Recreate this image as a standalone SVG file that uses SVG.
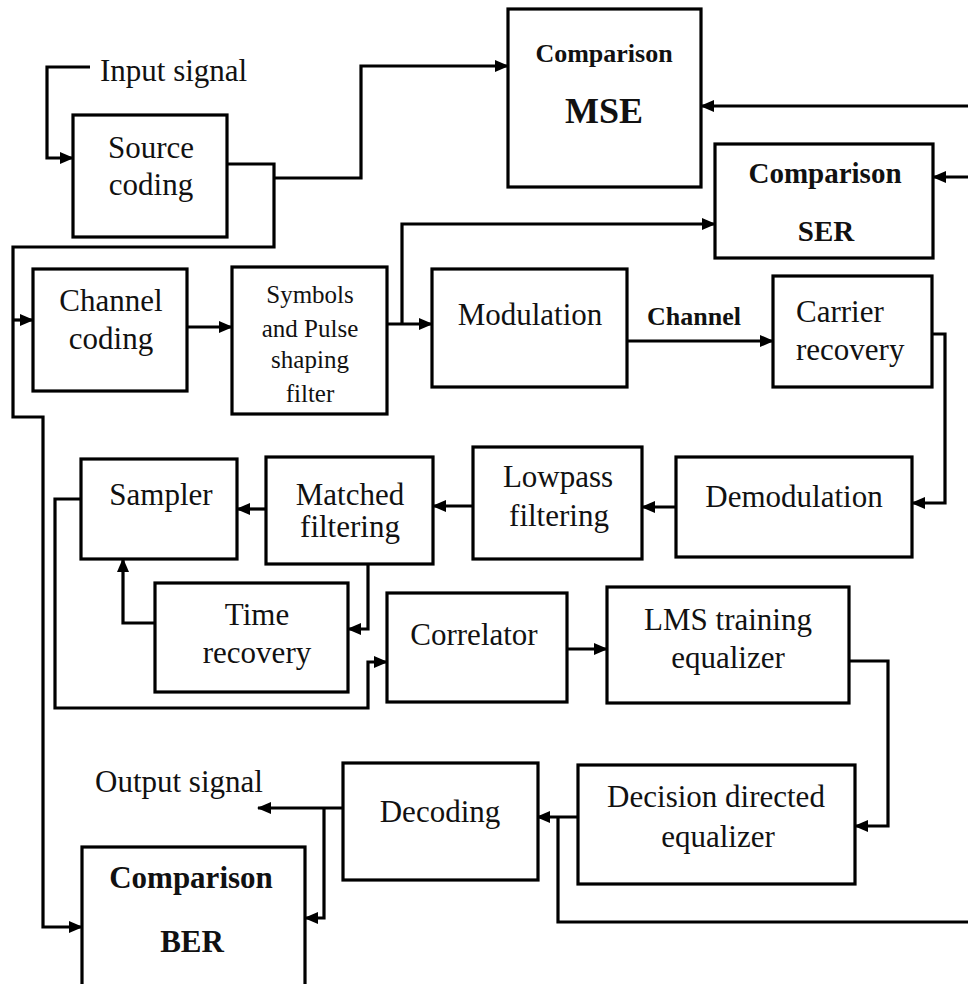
<svg xmlns="http://www.w3.org/2000/svg" width="968" height="984" viewBox="0 0 968 984">
  <style>
    .box { fill: #ffffff; stroke: #000000; stroke-width: 3.2; }
    .wire { fill: none; stroke: #000000; stroke-width: 3.2; stroke-linejoin: miter; }
    .lbl { font-family: "Liberation Serif", "Times New Roman", serif; font-size: 31px; fill: #111111; text-anchor: middle; }
    .sm { font-size: 25px; }
    .bold { font-weight: bold; }
  </style>
  <defs>
    <marker id="arrow" markerUnits="userSpaceOnUse" markerWidth="14" markerHeight="12" refX="13" refY="6" orient="auto">
      <path d="M0,0 L14,6 L0,12 z" fill="#000000"/>
    </marker>
  </defs>

  <rect width="968" height="984" fill="#ffffff"/>

  <!-- connectors -->
  <g id="connectors">
    <path class="wire" d="M90,67 H47 V158 H73" marker-end="url(#arrow)"/>
    <path class="wire" d="M227,164 H274 V247 H13 V417 H43 V927 H82" marker-end="url(#arrow)"/>
    <path class="wire" d="M274,178 H361 V66 H508" marker-end="url(#arrow)"/>
    <path class="wire" d="M13,320 H33" marker-end="url(#arrow)"/>
    <path class="wire" d="M187,327 H232" marker-end="url(#arrow)"/>
    <path class="wire" d="M387,324 H432" marker-end="url(#arrow)"/>
    <path class="wire" d="M402,324 V224 H715" marker-end="url(#arrow)"/>
    <path class="wire" d="M627,341 H773" marker-end="url(#arrow)"/>
    <path class="wire" d="M932,334 H945 V503 H912" marker-end="url(#arrow)"/>
    <path class="wire" d="M676,507 H642" marker-end="url(#arrow)"/>
    <path class="wire" d="M473,506 H433" marker-end="url(#arrow)"/>
    <path class="wire" d="M266,509 H237" marker-end="url(#arrow)"/>
    <path class="wire" d="M368,564 V629 H348" marker-end="url(#arrow)"/>
    <path class="wire" d="M155,623 H123 V559" marker-end="url(#arrow)"/>
    <path class="wire" d="M81,499 H55 V708 H368 V662 H387" marker-end="url(#arrow)"/>
    <path class="wire" d="M567,649 H607" marker-end="url(#arrow)"/>
    <path class="wire" d="M849,661 H888 V826 H855" marker-end="url(#arrow)"/>
    <path class="wire" d="M578,817 H537" marker-end="url(#arrow)"/>
    <path class="wire" d="M558,817 V922 H968"/>
    <path class="wire" d="M343,808 H258" marker-end="url(#arrow)"/>
    <path class="wire" d="M324,808 V918 H305" marker-end="url(#arrow)"/>
    <path class="wire" d="M968,106 H701" marker-end="url(#arrow)"/>
    <path class="wire" d="M968,177 H933" marker-end="url(#arrow)"/>
  </g>

  <text class="lbl" x="100" y="81" style="text-anchor:start">Input signal</text>
  <text class="lbl" x="95" y="792" style="text-anchor:start">Output signal</text>
  <text class="lbl bold" x="694" y="325" style="font-size:26px">Channel</text>

  <g id="source-coding">
    <rect class="box" x="73" y="115" width="154" height="122"/>
    <text class="lbl" x="151" y="158">Source</text>
    <text class="lbl" x="151" y="195">coding</text>
  </g>

  <g id="mse">
    <rect class="box" x="508" y="9" width="193" height="178"/>
    <text class="lbl bold" x="604" y="62" style="font-size:26px">Comparison</text>
    <text class="lbl bold" x="604" y="123" style="font-size:36px">MSE</text>
  </g>

  <g id="ser">
    <rect class="box" x="715" y="144" width="218" height="114"/>
    <text class="lbl bold" x="825" y="183" style="font-size:29px">Comparison</text>
    <text class="lbl bold" x="826" y="241" style="font-size:29px">SER</text>
  </g>

  <g id="channel-coding">
    <rect class="box" x="33" y="269" width="154" height="122"/>
    <text class="lbl" x="111" y="311">Channel</text>
    <text class="lbl" x="111" y="349">coding</text>
  </g>

  <g id="pulse-shaping">
    <rect class="box" x="232" y="267" width="155" height="147"/>
    <text class="lbl sm" x="310" y="303">Symbols</text>
    <text class="lbl sm" x="310" y="337">and Pulse</text>
    <text class="lbl sm" x="310" y="368">shaping</text>
    <text class="lbl sm" x="310" y="402">filter</text>
  </g>

  <g id="modulation">
    <rect class="box" x="432" y="269" width="195" height="118"/>
    <text class="lbl" x="530" y="325">Modulation</text>
  </g>

  <g id="carrier-recovery">
    <rect class="box" x="773" y="276" width="159" height="111"/>
    <text class="lbl" x="796" y="322" style="text-anchor:start">Carrier</text>
    <text class="lbl" x="796" y="360" style="text-anchor:start">recovery</text>
  </g>

  <g id="demodulation">
    <rect class="box" x="676" y="457" width="236" height="100"/>
    <text class="lbl" x="794" y="507">Demodulation</text>
  </g>

  <g id="lowpass">
    <rect class="box" x="473" y="447" width="169" height="112"/>
    <text class="lbl" x="558" y="487">Lowpass</text>
    <text class="lbl" x="559" y="526">filtering</text>
  </g>

  <g id="matched-filter">
    <rect class="box" x="266" y="457" width="167" height="107"/>
    <text class="lbl" x="350" y="505">Matched</text>
    <text class="lbl" x="350" y="537">filtering</text>
  </g>

  <g id="sampler">
    <rect class="box" x="81" y="459" width="156" height="100"/>
    <text class="lbl" x="161" y="505">Sampler</text>
  </g>

  <g id="time-recovery">
    <rect class="box" x="155" y="583" width="193" height="109"/>
    <text class="lbl" x="257" y="625">Time</text>
    <text class="lbl" x="257" y="663">recovery</text>
  </g>

  <g id="correlator">
    <rect class="box" x="387" y="593" width="180" height="109"/>
    <text class="lbl" x="474" y="645">Correlator</text>
  </g>

  <g id="lms-equalizer">
    <rect class="box" x="607" y="587" width="242" height="116"/>
    <text class="lbl" x="728" y="630">LMS training</text>
    <text class="lbl" x="728" y="668">equalizer</text>
  </g>

  <g id="dd-equalizer">
    <rect class="box" x="578" y="765" width="277" height="119"/>
    <text class="lbl" x="716" y="807">Decision directed</text>
    <text class="lbl" x="718" y="847">equalizer</text>
  </g>

  <g id="decoding">
    <rect class="box" x="343" y="763" width="195" height="117"/>
    <text class="lbl" x="440" y="822">Decoding</text>
  </g>

  <g id="ber">
    <rect class="box" x="82" y="847" width="223" height="150"/>
    <text class="lbl bold" x="191" y="888">Comparison</text>
    <text class="lbl bold" x="192" y="952">BER</text>
  </g>
</svg>
